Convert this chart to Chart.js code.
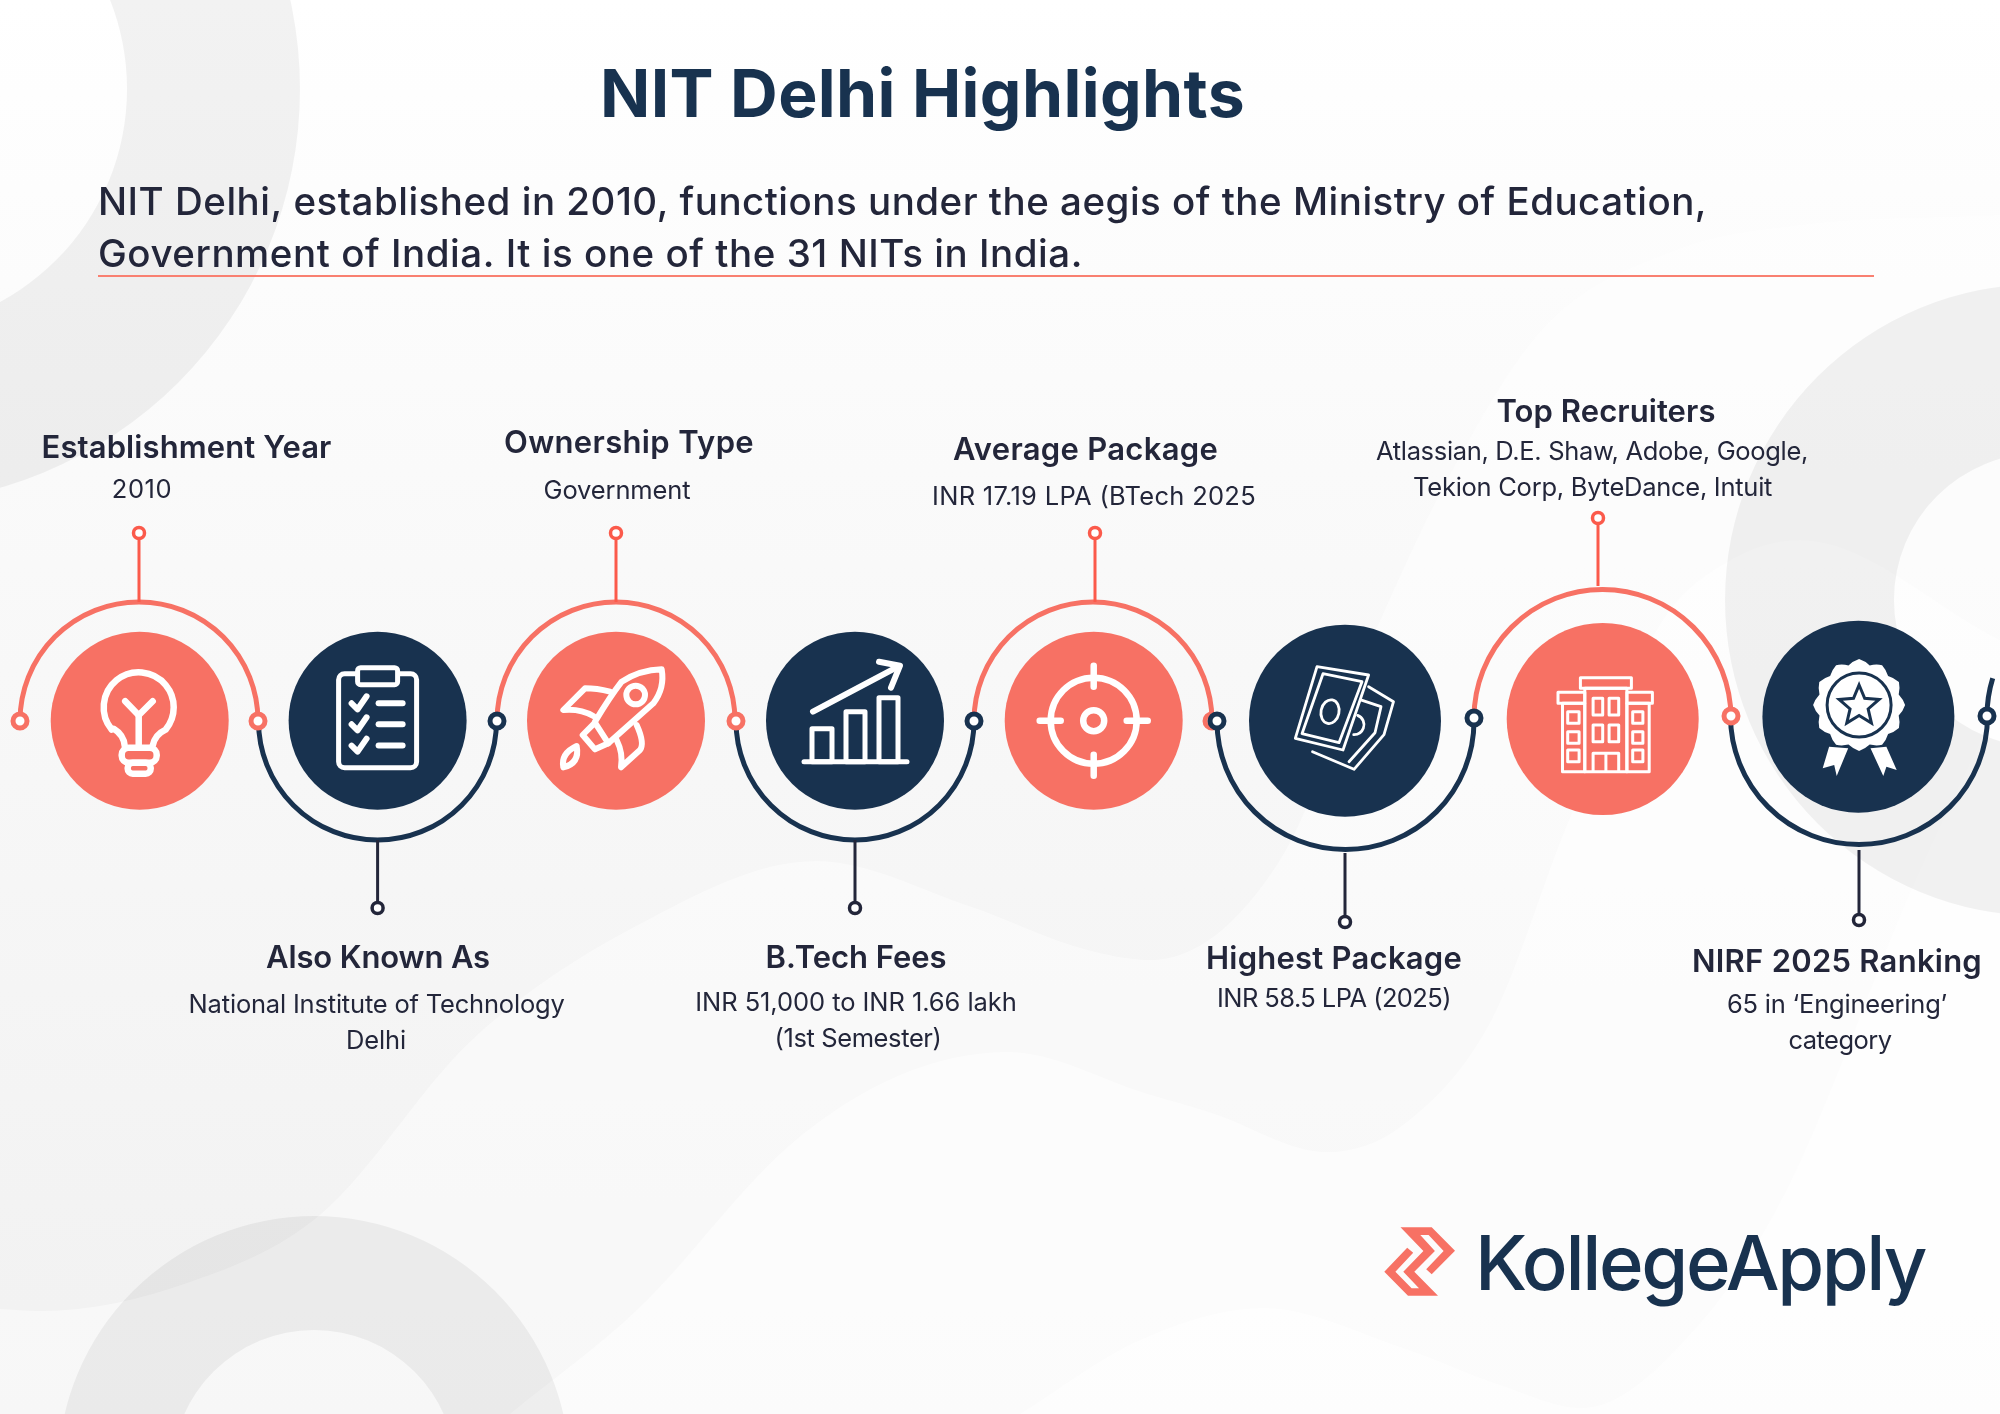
<!DOCTYPE html>
<html>
<head>
<meta charset="utf-8">
<title>NIT Delhi Highlights</title>
<script src="https://cdn.jsdelivr.net/npm/chart.js@4"></script>
<style>
  html, body { margin: 0; padding: 0; background: #fff; }
  canvas { display: block; }
</style>
</head>
<body>
<canvas id="chart" width="2000" height="1414"></canvas>
<script>
const pageTitle = 'NIT Delhi Highlights';
const introLines = [
  'NIT Delhi, established in 2010, functions under the aegis of the Ministry of Education,',
  'Government of India. It is one of the 31 NITs in India.'
];
const brandName = 'KollegeApply';

const headings = ['Establishment Year', 'Also Known As', 'Ownership Type', 'B.Tech Fees',
  'Average Package', 'Highest Package', 'Top Recruiters', 'NIRF 2025 Ranking'];
const details = [
  ['2010'],
  ['National Institute of Technology', 'Delhi'],
  ['Government'],
  ['INR 51,000 to INR 1.66 lakh', '(1st Semester)'],
  ['INR 17.19 LPA (BTech 2025'],
  ['INR 58.5 LPA (2025)'],
  ['Atlassian, D.E. Shaw, Adobe, Google,', 'Tekion Corp, ByteDance, Intuit'],
  ['65 in \u2018Engineering\u2019', 'category']
];

const nodeX = [139.7, 377.6, 616, 855, 1093.7, 1345, 1602.7, 1858.4];
const nodeY = [720.7, 720.7, 720.7, 720.7, 720.7, 720.7, 719, 716.7];
const arcX = [139, 377.5, 616, 855, 1093, 1345.5, 1602.5, 1859];
const arcY = [721, 721, 721, 721, 721, 721, 718, 716];
const stemX = [139, 377.6, 616, 855, 1095, 1345, 1598, 1859];
const stemDotY = [533, 908, 533, 908, 533, 922, 518, 920];
const stemEndY = [602, 840, 602, 840, 602, 853, 586, 850];

const coralDotX = [20, 258, 736, 1212, 1731];
const coralDotY = [721, 721, 721, 721, 716];
const navyDotX = [497, 974, 1217, 1474, 1987];
const navyDotY = [721, 721, 721, 718, 716];

const waveAX = [0, 40, 190, 320, 472, 638, 816, 969, 1084, 1150, 1280, 1376, 1446, 1542, 1676, 1800, 2000];
const waveAY = [1309, 1311, 1282, 1215, 1040, 925, 861, 906, 949, 960, 860, 630, 482, 330, 250, 225, 215];
const waveBX = [510, 638, 790, 900, 1008, 1148, 1212, 1327, 1403, 1492, 1569, 1663, 1727, 1800, 2000];
const waveBY = [1414, 1309, 1145, 1075, 1052, 1094, 1113, 1152, 1125, 1019, 820, 620, 562, 540, 640];
const waveCX = [1020, 1140, 1263, 1403, 1500, 1582, 1696, 1786, 1913, 2000];
const waveCY = [1414, 1340, 1308, 1348, 1385, 1408, 1328, 1191, 886, 700];

const NAVY = '#18324f';
const CORAL = '#f77164';
const INK = '#23263a';

const toPoints = (xs, ys) => xs.map((x, i) => ({ x, y: ys[i] }));

function waveDataset(label, xs, ys, alpha) {
  return {
    label,
    type: 'line',
    data: toPoints(xs, ys),
    borderWidth: 0,
    pointRadius: 0,
    cubicInterpolationMode: 'monotone',
    fill: 'start',
    backgroundColor: `rgba(255,255,255,${alpha})`
  };
}

function stemDataset(i) {
  const color = i % 2 === 0 ? '#fb5a4b' : INK;
  return {
    label: 'stem ' + headings[i],
    type: 'scatter',
    showLine: true,
    data: [{ x: stemX[i], y: stemDotY[i] }, { x: stemX[i], y: stemEndY[i] }],
    borderColor: color,
    borderWidth: 3,
    pointRadius: [5.5, 0],
    pointBorderWidth: 3.5,
    pointBorderColor: color,
    pointBackgroundColor: '#fff'
  };
}

function ring(ctx, x, y, inner, outer) {
  ctx.beginPath();
  ctx.arc(x, y, outer, 0, Math.PI * 2);
  ctx.arc(x, y, inner, 0, Math.PI * 2, true);
  ctx.fillStyle = 'rgba(0,0,0,0.05)';
  ctx.fill();
}

function drawBackdropRings(chart) {
  const { ctx, scales: { x, y } } = chart;
  ring(ctx, x.getPixelForValue(-115), y.getPixelForValue(89), 242, 415);
  ring(ctx, x.getPixelForValue(2041), y.getPixelForValue(600), 147, 316);
  ring(ctx, x.getPixelForValue(314), y.getPixelForValue(1472), 142, 256);
}

function drawArcs(chart) {
  const { ctx, scales: { x, y } } = chart;
  ctx.save();
  ctx.lineWidth = 5;
  arcX.forEach((cx, i) => {
    const r = i < 5 ? 119 : 128.5;
    const up = i % 2 === 0;
    ctx.strokeStyle = up ? CORAL : NAVY;
    ctx.beginPath();
    if (up) ctx.arc(x.getPixelForValue(cx), y.getPixelForValue(arcY[i]), r, Math.PI, 0);
    else ctx.arc(x.getPixelForValue(cx), y.getPixelForValue(arcY[i]), r, 0, Math.PI);
    ctx.stroke();
  });
  // next loop of the ribbon, cut off by the page edge
  ctx.strokeStyle = NAVY;
  ctx.beginPath();
  ctx.arc(x.getPixelForValue(2115), y.getPixelForValue(716), 128, Math.PI, Math.PI + 0.3);
  ctx.stroke();
  ctx.restore();
}

function rect(ctx, x1, y1, x2, y2) {
  ctx.strokeRect(x1, y1, x2 - x1, y2 - y1);
}

function line(ctx, pts) {
  ctx.beginPath();
  pts.forEach((p, i) => i ? ctx.lineTo(p[0], p[1]) : ctx.moveTo(p[0], p[1]));
  ctx.stroke();
}

const iconPainters = [
  function bulb(ctx) {
    ctx.lineWidth = 6.5;
    ctx.beginPath();
    ctx.moveTo(-15, 25);
    ctx.quadraticCurveTo(-16, 14, -26, 8);
    ctx.arc(-1, -13.4, 35, Math.PI * 0.78, Math.PI * 0.22);
    ctx.quadraticCurveTo(15, 14, 13, 25);
    ctx.stroke();
    line(ctx, [[-1, -6], [-1, 25]]);
    line(ctx, [[-14.5, -19.5], [-1, -5.5], [13, -19.5]]);
    ctx.beginPath();
    ctx.roundRect(-18, 27, 35, 15, 7);
    ctx.stroke();
    ctx.beginPath();
    ctx.roundRect(-12, 42, 23, 11, 5);
    ctx.stroke();
  },
  function clipboard(ctx) {
    ctx.lineWidth = 5;
    ctx.beginPath();
    ctx.roundRect(-39, -47, 78, 94, 6);
    ctx.stroke();
    ctx.fillStyle = NAVY;
    ctx.beginPath();
    ctx.roundRect(-20, -53, 40, 17, 3);
    ctx.fill();
    ctx.stroke();
    ctx.lineWidth = 6;
    [-17.4, 3.6, 24.9].forEach(ly => {
      line(ctx, [[-26, ly], [-20, ly + 6], [-11, ly - 7]]);
      line(ctx, [[1, ly], [25, ly]]);
    });
  },
  function rocket(ctx) {
    ctx.save();
    ctx.translate(-76, -80.7);
    ctx.scale(1 / 3, 1 / 3);
    ctx.lineWidth = 18;
    ctx.beginPath();
    ctx.moveTo(165, 245);
    ctx.quadraticCurveTo(210, 170, 245, 125);
    ctx.quadraticCurveTo(300, 90, 365, 88);
    ctx.quadraticCurveTo(375, 145, 340, 190);
    ctx.lineTo(205, 310);
    ctx.stroke();
    ctx.beginPath();
    ctx.moveTo(210, 155);
    ctx.quadraticCurveTo(170, 145, 135, 145);
    ctx.lineTo(70, 210);
    ctx.quadraticCurveTo(120, 205, 160, 228);
    ctx.stroke();
    ctx.beginPath();
    ctx.moveTo(290, 255);
    ctx.quadraticCurveTo(315, 310, 300, 330);
    ctx.lineTo(243, 382);
    ctx.quadraticCurveTo(250, 340, 230, 300);
    ctx.stroke();
    ctx.beginPath();
    ctx.moveTo(128, 285);
    ctx.lineTo(165, 248);
    ctx.lineTo(205, 310);
    ctx.lineTo(165, 328);
    ctx.closePath();
    ctx.stroke();
    ctx.beginPath();
    ctx.arc(287, 165, 28, 0, Math.PI * 2);
    ctx.stroke();
    ctx.beginPath();
    ctx.moveTo(70, 382);
    ctx.quadraticCurveTo(62, 340, 110, 318);
    ctx.quadraticCurveTo(120, 370, 70, 382);
    ctx.closePath();
    ctx.stroke();
    ctx.restore();
  },
  function growth(ctx) {
    ctx.lineWidth = 5;
    line(ctx, [[-51, 41], [52, 41]]);
    rect(ctx, -43, 41, -23, 8);
    rect(ctx, -9, 41, 10, -9);
    rect(ctx, 24, 41, 43, -23);
    ctx.lineWidth = 6;
    line(ctx, [[-42, -9], [43, -54]]);
    line(ctx, [[24, -59], [45, -55], [36, -33]]);
  },
  function target(ctx) {
    ctx.lineWidth = 6.5;
    ctx.beginPath();
    ctx.arc(0, 0, 43, 0, Math.PI * 2);
    ctx.stroke();
    ctx.beginPath();
    ctx.arc(0, 0, 10.5, 0, Math.PI * 2);
    ctx.stroke();
    line(ctx, [[-54, 0], [-33, 0]]);
    line(ctx, [[33, 0], [54, 0]]);
    line(ctx, [[0, -55], [0, -34]]);
    line(ctx, [[0, 34], [0, 55]]);
  },
  function money(ctx) {
    ctx.lineWidth = 2.8;
    ctx.lineJoin = 'round';
    const back = [[23.6, -34], [48.5, -19], [9, 48.6], [-32.5, 31]];
    const front = [[-28, -54], [23.6, -45.7], [-2, 29.3], [-49.7, 17.6]];
    line(ctx, [back[0], back[1], [39, 14], back[2], back[3]]);
    line(ctx, [[12, -22], [36, -14], [30, 12], [4, 41]]);
    ctx.fillStyle = NAVY;
    ctx.beginPath();
    front.forEach((p, i) => i ? ctx.lineTo(p[0], p[1]) : ctx.moveTo(p[0], p[1]));
    ctx.closePath();
    ctx.fill();
    ctx.stroke();
    ctx.beginPath();
    ctx.moveTo(-22, -47);
    ctx.lineTo(17, -39);
    ctx.lineTo(-6, 22);
    ctx.lineTo(-43, 13);
    ctx.closePath();
    ctx.stroke();
    ctx.beginPath();
    ctx.ellipse(-15, -9, 9, 12, 0.2, 0, Math.PI * 2);
    ctx.stroke();
    ctx.beginPath();
    ctx.arc(9, 4, 10, -1.2, 1.6);
    ctx.stroke();
  },
  function building(ctx) {
    ctx.lineWidth = 3;
    rect(ctx, -22.3, -41.3, 28.7, -30.7);
    rect(ctx, -17.9, -30.7, 24.2, 52.7);
    rect(ctx, -44.7, -26.7, -17.9, -15.7);
    rect(ctx, 24.2, -26.7, 49.7, -15.7);
    rect(ctx, -40.2, -15.7, -17.9, 52.7);
    rect(ctx, 24.2, -15.7, 46.5, 52.7);
    [[-20.7, -4], [6, 22.7]].forEach(([a, b]) => {
      rect(ctx, -9.6, a, 0, b);
      rect(ctx, 6.4, a, 16, b);
    });
    [[-7.3, 4.3], [12.7, 24.3], [31, 42.7]].forEach(([a, b]) => {
      rect(ctx, -35, a, -23.6, b);
      rect(ctx, 30, a, 40.2, b);
    });
    line(ctx, [[-9.6, 52.7], [-9.6, 34.3], [16, 34.3], [16, 52.7]]);
    line(ctx, [[3.2, 34.3], [3.2, 52.7]]);
  },
  function badge(ctx) {
    const bx = 0.7, by = -11.7;
    ctx.fillStyle = '#fff';
    [[[-29.3, 30], [-35.7, 51.6], [-24.2, 48.3], [-21.7, 59.3], [-10.2, 31.6]],
     [[12.1, 31.6], [24.9, 59.3], [28, 50], [38.3, 53.3], [28, 30]]].forEach(r => {
      ctx.beginPath();
      r.forEach((p, i) => i ? ctx.lineTo(p[0], p[1]) : ctx.moveTo(p[0], p[1]));
      ctx.closePath();
      ctx.fill();
    });
    ctx.beginPath();
    const scallops = 12;
    for (let i = 0; i <= scallops * 2; i++) {
      const a = -Math.PI / 2 + i * Math.PI / scallops;
      const r = i % 2 === 0 ? 46 : 41;
      const px = bx + r * Math.cos(a), py = by + r * Math.sin(a);
      if (i === 0) ctx.moveTo(px, py);
      else {
        const m = a - Math.PI / scallops / 2;
        const mr = 44.5;
        ctx.quadraticCurveTo(bx + mr * Math.cos(m), by + mr * Math.sin(m), px, py);
      }
    }
    ctx.fill();
    ctx.strokeStyle = NAVY;
    ctx.lineWidth = 3;
    ctx.beginPath();
    ctx.arc(bx, by, 32, 0, Math.PI * 2);
    ctx.stroke();
    ctx.lineWidth = 3;
    ctx.lineJoin = 'miter';
    ctx.beginPath();
    for (let i = 0; i < 10; i++) {
      const a = -Math.PI / 2 + i * Math.PI / 5;
      const r = i % 2 === 0 ? 21 : 9.5;
      const px = bx + r * Math.cos(a), py = by + 1 + r * Math.sin(a);
      i ? ctx.lineTo(px, py) : ctx.moveTo(px, py);
    }
    ctx.closePath();
    ctx.stroke();
  }
];

// width of each text line as measured on the reference, the font is stretched to it
function fitText(ctx, str, left, baseline, width) {
  ctx.letterSpacing = '0px';
  const natural = ctx.measureText(str).width;
  ctx.letterSpacing = ((width - natural) / str.length).toFixed(3) + 'px';
  ctx.fillText(str, left, baseline);
  ctx.letterSpacing = '0px';
}

const headingBoxes = [
  [186.5, 457.7, 290], [378, 967.7, 224], [629, 452.7, 250], [856, 967.7, 181],
  [1085.6, 460, 265], [1334, 969.3, 256], [1606, 422, 219], [1837, 971.7, 290]
];
const detailBoxes = [
  [[142, 497.7, 60.6]],
  [[376.6, 1012.7, 376], [376, 1048.7, 60]],
  [[617, 499.3, 147]],
  [[856, 1011, 321.5], [858, 1046.7, 167]],
  [[1094, 504.6, 324]],
  [[1334, 1007, 234]],
  [[1592, 460, 432], [1592.6, 496, 359]],
  [[1837, 1013.3, 220], [1840, 1049.3, 103]]
];

function drawTexts(chart) {
  const { ctx, scales: { x, y } } = chart;
  const put = (str, box) => {
    const w = box[2];
    fitText(ctx, str, x.getPixelForValue(box[0] - w / 2), y.getPixelForValue(box[1]), w);
  };
  ctx.save();
  ctx.textAlign = 'left';
  ctx.textBaseline = 'alphabetic';

  ctx.fillStyle = NAVY;
  ctx.font = '700 66px Inter';
  put(pageTitle, [922.5, 117, 645]);

  ctx.fillStyle = INK;
  ctx.font = '500 38.5px Inter';
  put(introLines[0], [902.5, 215, 1609]);
  put(introLines[1], [590.5, 267, 985]);

  headings.forEach((h, i) => {
    ctx.fillStyle = INK;
    ctx.font = '600 31px Inter';
    put(h, headingBoxes[i]);
    ctx.font = '400 25.5px Inter';
    details[i].forEach((d, j) => put(d, detailBoxes[i][j]));
  });

  ctx.fillStyle = NAVY;
  ctx.font = '500 76px Inter';
  put(brandName, [1700, 1290, 450]);
  ctx.restore();
}

const logoX = [1400.5, 1431.7, 1455, 1431.7, 1426.2, 1443.6, 1428.6, 1420.3, 1434.9, 1414.3,
  1438, 1408, 1384.3, 1407.2, 1413.2, 1395.4, 1411.6, 1419, 1403.3, 1423.4];
const logoY = [1227.3, 1227.3, 1250.7, 1274.3, 1269.3, 1251, 1235, 1235, 1251, 1271.7,
  1295.7, 1295.7, 1271.7, 1247.7, 1252.7, 1271.7, 1288.3, 1288.3, 1271.7, 1251];

const diagramPlugin = {
  id: 'diagram',
  beforeDraw(chart) {
    const { ctx, width, height } = chart;
    const g = ctx.createLinearGradient(0, 0, 0, height);
    g.addColorStop(0, '#ffffff');
    g.addColorStop(0.4, '#f9f9f9');
    g.addColorStop(1, '#f1f1f1');
    ctx.fillStyle = g;
    ctx.fillRect(0, 0, width, height);
  },
  afterDatasetDraw(chart, args) {
    // waves are painted first; rings and ribbon go right on top of them
    if (args.meta.label === 'wave C') {
      drawBackdropRings(chart);
      drawArcs(chart);
    }
  },
  afterDatasetsDraw(chart) {
    const { ctx, scales: { x, y } } = chart;
    iconPainters.forEach((paint, i) => {
      ctx.save();
      ctx.translate(x.getPixelForValue(nodeX[i]), y.getPixelForValue(nodeY[i]));
      ctx.strokeStyle = '#fff';
      ctx.lineCap = i === 6 ? 'butt' : 'round';
      ctx.lineJoin = 'round';
      paint(ctx);
      ctx.restore();
    });
    ctx.save();
    ctx.fillStyle = CORAL;
    ctx.beginPath();
    logoX.forEach((lx, i) => {
      const px = x.getPixelForValue(lx), py = y.getPixelForValue(logoY[i]);
      i ? ctx.lineTo(px, py) : ctx.moveTo(px, py);
    });
    ctx.closePath();
    ctx.fill();
    ctx.restore();
    drawTexts(chart);
  }
};

new Chart(document.getElementById('chart'), {
  type: 'scatter',
  data: {
    datasets: [
      {
        label: 'navy joints',
        data: toPoints(navyDotX, navyDotY),
        pointRadius: 7, pointBorderWidth: 5,
        pointBorderColor: NAVY, pointBackgroundColor: '#fff'
      },
      {
        label: 'coral joints',
        data: toPoints(coralDotX, coralDotY),
        pointRadius: 7, pointBorderWidth: 5,
        pointBorderColor: CORAL, pointBackgroundColor: '#fff'
      },
      {
        label: 'nodes',
        data: toPoints(nodeX, nodeY),
        pointRadius: c => c.dataIndex < 5 ? 89 : 96,
        pointBorderWidth: 0,
        pointBackgroundColor: c => c.dataIndex % 2 === 0 ? CORAL : NAVY
      },
      {
        label: 'rule',
        showLine: true,
        data: [{ x: 98, y: 276 }, { x: 1874, y: 276 }],
        borderColor: '#f98071', borderWidth: 2, pointRadius: 0
      },
      ...headings.map((h, i) => stemDataset(i)),
      waveDataset('wave C', waveCX, waveCY, 0.6),
      waveDataset('wave B', waveBX, waveBY, 0.5),
      waveDataset('wave A', waveAX, waveAY, 0.45)
    ]
  },
  options: {
    responsive: false,
    animation: false,
    devicePixelRatio: 1,
    layout: { padding: 0, autoPadding: false },
    clip: false,
    events: [],
    plugins: { legend: { display: false }, tooltip: { enabled: false } },
    scales: {
      x: { type: 'linear', min: 0, max: 2000, display: false },
      y: { type: 'linear', min: 0, max: 1414, reverse: true, display: false }
    }
  },
  plugins: [diagramPlugin]
});
</script>
</body>
</html>
